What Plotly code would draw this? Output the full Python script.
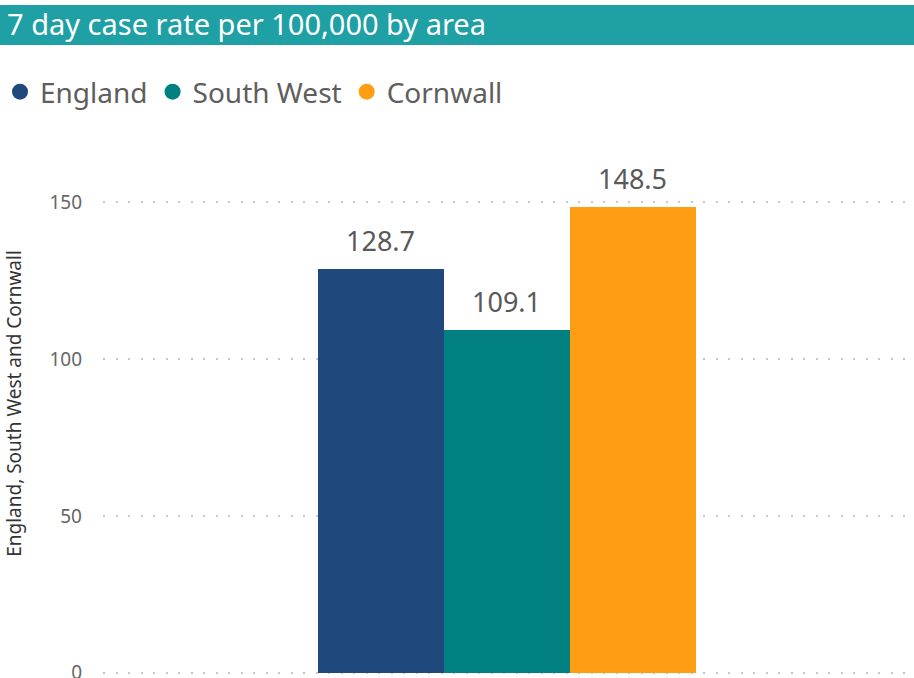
import plotly.graph_objects as go

areas = ["England", "South West", "Cornwall"]
rates = [128.7, 109.1, 148.5]
colors = ["#1F497D", "#008080", "#FF9E12"]
y_ticks = [0, 50, 100, 150]
title_text = "7 day case rate per 100,000 by area"
y_title = "England, South West and Cornwall"

FONT = "Segoe UI, Noto Sans, Open Sans, sans-serif"

fig = go.Figure()
fig.add_trace(go.Bar(
    x=areas, y=rates, marker=dict(color=colors, line=dict(width=0)),
    showlegend=False, hoverinfo="x+y",
))
for name, col in zip(areas, colors):
    fig.add_trace(go.Scatter(
        x=[None], y=[None], mode="markers", name=name,
        marker=dict(symbol="circle", size=22, color=col),
    ))

for a, v in zip(areas, rates):
    fig.add_annotation(
        x=a, y=v, text=f"{v:.1f}", showarrow=False, yanchor="bottom",
        yshift=8, font=dict(family=FONT, size=27, color="#595959"),
    )

W, H = 914, 678
ml, mr, mt, mb = 103, 0, 133, 4
pw, ph = W - ml - mr, H - mt - mb
y_lo = -0.4
y_hi = y_lo + ph / 3.1375

# title bar
fig.add_shape(type="rect", xref="paper", yref="paper",
              x0=-ml / pw, x1=1, y0=(H - mb - 45) / ph, y1=(H - mb - 5) / ph,
              fillcolor="#1FA0A5", line=dict(width=0), layer="below")

fig.update_layout(
    width=W, height=H,
    margin=dict(l=ml, r=mr, t=mt, b=mb, autoexpand=False),
    paper_bgcolor="white", plot_bgcolor="white",
    title=dict(text=title_text, x=7 / W, xanchor="left", y=1 - 25 / H, yanchor="middle",
               font=dict(family=FONT, size=29, color="white")),
    bargap=0,
    showlegend=True,
    legend=dict(orientation="h", x=-ml / pw, xanchor="left",
                y=(H - mb - 92) / ph, yanchor="middle",
                font=dict(family=FONT, size=28, color="#605E5C"),
                itemsizing="trace", bgcolor="rgba(0,0,0,0)", tracegroupgap=0),
    xaxis=dict(type="category", range=[-2.205, 4.235], showticklabels=False,
               showgrid=False, zeroline=False, showline=False, ticks="",
               automargin=False),
    yaxis=dict(range=[y_lo, y_hi], tickvals=y_ticks, showgrid=True,
               gridcolor="#C8C8C8", gridwidth=2, griddash="2px,10.5px",
               zeroline=False, showline=False, ticks="", automargin=False,
               ticklabelstandoff=20, ticklabeloverflow="allow",
               tickfont=dict(family=FONT, size=19, color="#666666"),
               title=dict(text=y_title, standoff=22,
                          font=dict(family=FONT, size=19, color="#333333"))),
)

fig.write_html("out.html", config={"displayModeBar": False},
               post_script="document.body.style.margin='0';document.body.style.overflow='hidden';")
